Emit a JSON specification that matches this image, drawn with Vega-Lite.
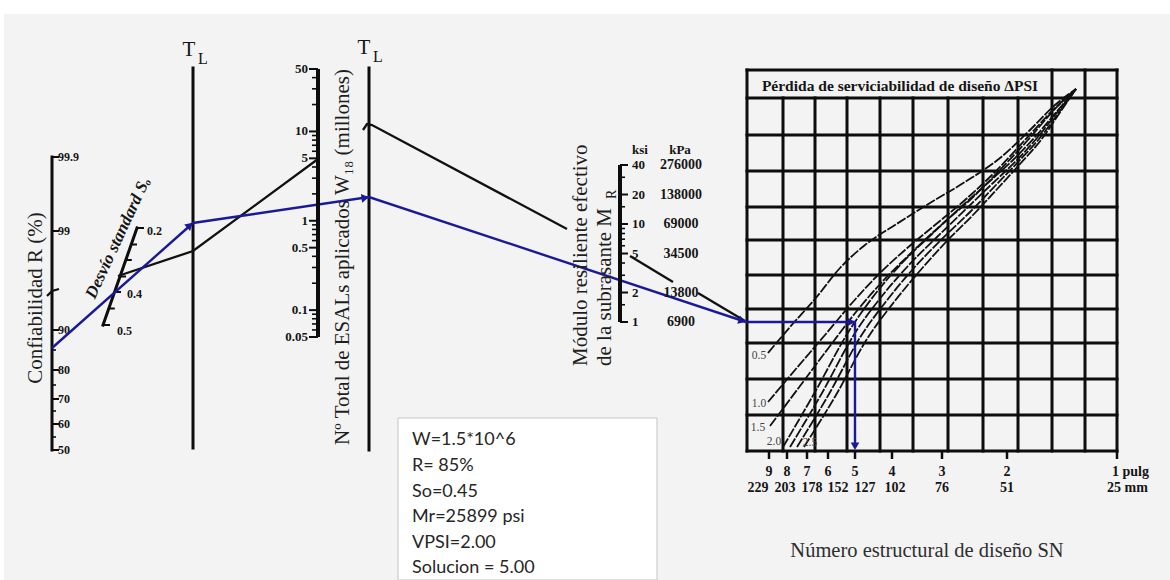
{
  "$schema": "https://vega.github.io/schema/vega-lite/v6.json",
  "width": 1170,
  "height": 580,
  "autosize": "none",
  "padding": 0,
  "background": "#ffffff",
  "config": {
    "view": {"stroke": null},
    "axis": {"disable": true},
    "text": {"font": "Liberation Serif", "color": "#151515"}
  },
  "resolve": {"scale": {"x": "independent", "y": "independent"}},
  "layer": [
    {
      "layer": [
        {
          "data": {"values": [{"x": 4, "y": 14, "x2": 1170, "y2": 580}]},
          "mark": {"type": "rect", "fill": "#f3f3f3"},
          "encoding": {
            "x": {"field": "x", "type": "quantitative", "scale": {"domain": [0, 1170], "nice": false, "zero": false}},
            "x2": {"field": "x2"},
            "y": {"field": "y", "type": "quantitative", "scale": {"domain": [0, 580], "nice": false, "zero": false, "reverse": true}},
            "y2": {"field": "y2"}
          }
        },
        {
          "data": {"values": [{"x": 398, "y": 418, "x2": 657, "y2": 580}]},
          "mark": {"type": "rect", "fill": "#ffffff", "stroke": "#c4c4c4", "strokeWidth": 1},
          "encoding": {
            "x": {"field": "x", "type": "quantitative", "scale": {"domain": [0, 1170], "nice": false, "zero": false}},
            "x2": {"field": "x2"},
            "y": {"field": "y", "type": "quantitative", "scale": {"domain": [0, 580], "nice": false, "zero": false, "reverse": true}},
            "y2": {"field": "y2"}
          }
        },
        {
          "data": {"values": [
            {"x": 747, "y": 70, "x2": 747, "y2": 451},
            {"x": 1052, "y": 70, "x2": 1052, "y2": 451},
            {"x": 1085, "y": 70, "x2": 1085, "y2": 451},
            {"x": 1117, "y": 70, "x2": 1117, "y2": 451},
            {"x": 783, "y": 98, "x2": 783, "y2": 451},
            {"x": 815, "y": 98, "x2": 815, "y2": 451},
            {"x": 847, "y": 98, "x2": 847, "y2": 451},
            {"x": 880, "y": 98, "x2": 880, "y2": 451},
            {"x": 913, "y": 98, "x2": 913, "y2": 451},
            {"x": 948, "y": 98, "x2": 948, "y2": 451},
            {"x": 983, "y": 98, "x2": 983, "y2": 451},
            {"x": 1018, "y": 98, "x2": 1018, "y2": 451},
            {"x": 747, "y": 70, "x2": 1117, "y2": 70},
            {"x": 747, "y": 98, "x2": 1117, "y2": 98},
            {"x": 747, "y": 135, "x2": 1117, "y2": 135},
            {"x": 747, "y": 171, "x2": 1117, "y2": 171},
            {"x": 747, "y": 207, "x2": 1117, "y2": 207},
            {"x": 747, "y": 240, "x2": 1117, "y2": 240},
            {"x": 747, "y": 275, "x2": 1117, "y2": 275},
            {"x": 747, "y": 309, "x2": 1117, "y2": 309},
            {"x": 747, "y": 343, "x2": 1117, "y2": 343},
            {"x": 747, "y": 379, "x2": 1117, "y2": 379},
            {"x": 747, "y": 415, "x2": 1117, "y2": 415},
            {"x": 747, "y": 451, "x2": 1117, "y2": 451},
            {"x": 52, "y": 157, "x2": 52, "y2": 450},
            {"x": 193, "y": 68, "x2": 193, "y2": 448},
            {"x": 369, "y": 68, "x2": 369, "y2": 450},
            {"x": 137, "y": 228, "x2": 103, "y2": 325}
          ]},
          "mark": {"type": "rule", "color": "#0d0d0d", "strokeWidth": 3, "strokeCap": "square"},
          "encoding": {
            "x": {"field": "x", "type": "quantitative", "scale": {"domain": [0, 1170], "nice": false, "zero": false}},
            "x2": {"field": "x2"},
            "y": {"field": "y", "type": "quantitative", "scale": {"domain": [0, 580], "nice": false, "zero": false, "reverse": true}},
            "y2": {"field": "y2"}
          }
        },
        {
          "data": {"values": [
            {"x": 137, "y": 228, "x2": 144, "y2": 228},
            {"x": 131.2, "y": 244.5, "x2": 137, "y2": 244.5},
            {"x": 125.8, "y": 260, "x2": 131.8, "y2": 260},
            {"x": 120, "y": 276.5, "x2": 126, "y2": 276.5},
            {"x": 114.6, "y": 292, "x2": 121, "y2": 292},
            {"x": 108.8, "y": 308.5, "x2": 114.8, "y2": 308.5},
            {"x": 103, "y": 325, "x2": 110, "y2": 325}
          ]},
          "mark": {"type": "rule", "color": "#0d0d0d", "strokeWidth": 2},
          "encoding": {
            "x": {"field": "x", "type": "quantitative", "scale": {"domain": [0, 1170], "nice": false, "zero": false}},
            "x2": {"field": "x2"},
            "y": {"field": "y", "type": "quantitative", "scale": {"domain": [0, 580], "nice": false, "zero": false, "reverse": true}},
            "y2": {"field": "y2"}
          }
        },
        {
          "data": {"values": [
            {"y": 157, "label": "99.9"}, {"y": 231, "label": "99"}, {"y": 330, "label": "90"},
            {"y": 370, "label": "80"}, {"y": 399, "label": "70"}, {"y": 424, "label": "60"}, {"y": 450, "label": "50"}
          ]},
          "layer": [
            {
              "mark": {"type": "rule", "color": "#0d0d0d", "strokeWidth": 2},
              "encoding": {
                "x": {"datum": 52, "type": "quantitative", "scale": {"domain": [0, 1170], "nice": false, "zero": false}},
                "x2": {"datum": 59},
                "y": {"field": "y", "type": "quantitative", "scale": {"domain": [0, 580], "nice": false, "zero": false, "reverse": true}}
              }
            },
            {
              "mark": {"type": "text", "align": "left", "baseline": "middle", "fontSize": 12, "fontWeight": "bold"},
              "encoding": {
                "x": {"datum": 58, "type": "quantitative", "scale": {"domain": [0, 1170], "nice": false, "zero": false}},
                "y": {"field": "y", "type": "quantitative", "scale": {"domain": [0, 580], "nice": false, "zero": false, "reverse": true}},
                "text": {"field": "label"}
              }
            }
          ]
        },
        {
          "data": {"values": [{"y": 350}, {"y": 385}, {"y": 411}, {"y": 437}]},
          "mark": {"type": "rule", "color": "#0d0d0d", "strokeWidth": 1.6},
          "encoding": {
            "x": {"datum": 52, "type": "quantitative", "scale": {"domain": [0, 1170], "nice": false, "zero": false}},
            "x2": {"datum": 56},
            "y": {"field": "y", "type": "quantitative", "scale": {"domain": [0, 580], "nice": false, "zero": false, "reverse": true}}
          }
        },
        {
          "data": {"values": [
            {"x": 769, "n": "9", "mm": "229", "mmx": 758}, {"x": 787, "n": "8", "mm": "203", "mmx": 785},
            {"x": 807, "n": "7", "mm": "178", "mmx": 812}, {"x": 828, "n": "6", "mm": "152", "mmx": 838},
            {"x": 855, "n": "5", "mm": "127", "mmx": 865}, {"x": 892, "n": "4", "mm": "102", "mmx": 895},
            {"x": 942, "n": "3", "mm": "76", "mmx": 942}, {"x": 1007, "n": "2", "mm": "51", "mmx": 1007},
            {"x": 1117, "n": "", "mm": "", "mmx": 1117}
          ]},
          "layer": [
            {
              "mark": {"type": "rule", "color": "#0d0d0d", "strokeWidth": 2.5},
              "encoding": {
                "x": {"field": "x", "type": "quantitative", "scale": {"domain": [0, 1170], "nice": false, "zero": false}},
                "y": {"datum": 451, "type": "quantitative", "scale": {"domain": [0, 580], "nice": false, "zero": false, "reverse": true}},
                "y2": {"datum": 459}
              }
            },
            {
              "mark": {"type": "text", "align": "center", "baseline": "middle", "fontSize": 14, "fontWeight": "bold"},
              "encoding": {
                "x": {"field": "x", "type": "quantitative", "scale": {"domain": [0, 1170], "nice": false, "zero": false}},
                "y": {"datum": 472, "type": "quantitative", "scale": {"domain": [0, 580], "nice": false, "zero": false, "reverse": true}},
                "text": {"field": "n"}
              }
            },
            {
              "mark": {"type": "text", "align": "center", "baseline": "middle", "fontSize": 14, "fontWeight": "bold"},
              "encoding": {
                "x": {"field": "mmx", "type": "quantitative", "scale": {"domain": [0, 1170], "nice": false, "zero": false}},
                "y": {"datum": 488, "type": "quantitative", "scale": {"domain": [0, 580], "nice": false, "zero": false, "reverse": true}},
                "text": {"field": "mm"}
              }
            }
          ]
        },
        {
          "data": {"values": [
            {"x": 1112, "y": 472, "t": "1 pulg"}, {"x": 1107, "y": 488, "t": "25 mm"}
          ]},
          "mark": {"type": "text", "align": "left", "baseline": "middle", "fontSize": 14, "fontWeight": "bold"},
          "encoding": {
            "x": {"field": "x", "type": "quantitative", "scale": {"domain": [0, 1170], "nice": false, "zero": false}},
            "y": {"field": "y", "type": "quantitative", "scale": {"domain": [0, 580], "nice": false, "zero": false, "reverse": true}},
            "text": {"field": "t"}
          }
        },
        {
          "data": {"values": [{"x": 640, "y": 150, "t": "ksi"}, {"x": 680, "y": 150, "t": "kPa"}]},
          "mark": {"type": "text", "align": "center", "baseline": "middle", "fontSize": 13, "fontWeight": "bold"},
          "encoding": {
            "x": {"field": "x", "type": "quantitative", "scale": {"domain": [0, 1170], "nice": false, "zero": false}},
            "y": {"field": "y", "type": "quantitative", "scale": {"domain": [0, 580], "nice": false, "zero": false, "reverse": true}},
            "text": {"field": "t"}
          }
        },
        {
          "data": {"values": [
            {"id": "g0", "o": 1, "x": 47, "y": 296}, {"id": "g0", "o": 2, "x": 52, "y": 291}, {"id": "g0", "o": 3, "x": 59, "y": 289},
            {"id": "g1", "o": 1, "x": 118, "y": 276}, {"id": "g1", "o": 2, "x": 193, "y": 251}, {"id": "g1", "o": 3, "x": 318, "y": 159},
            {"id": "g2", "o": 1, "x": 363, "y": 130}, {"id": "g2", "o": 2, "x": 367, "y": 124}, {"id": "g2", "o": 3, "x": 372, "y": 125}, {"id": "g2", "o": 4, "x": 567, "y": 229},
            {"id": "g3", "o": 1, "x": 630, "y": 256}, {"id": "g3", "o": 2, "x": 673, "y": 282},
            {"id": "g4", "o": 1, "x": 698, "y": 293}, {"id": "g4", "o": 2, "x": 745, "y": 321}
          ]},
          "mark": {"type": "line", "color": "#111111", "strokeWidth": 2.3},
          "encoding": {
            "x": {"field": "x", "type": "quantitative", "scale": {"domain": [0, 1170], "nice": false, "zero": false}},
            "y": {"field": "y", "type": "quantitative", "scale": {"domain": [0, 580], "nice": false, "zero": false, "reverse": true}},
            "detail": {"field": "id"},
            "order": {"field": "o"}
          }
        },
        {
          "data": {"values": [
            {"id": "0.5", "o": 1, "x": 768, "y": 353}, {"id": "0.5", "o": 2, "x": 790, "y": 327}, {"id": "0.5", "o": 3, "x": 815, "y": 299}, {"id": "0.5", "o": 4, "x": 840, "y": 268}, {"id": "0.5", "o": 5, "x": 865, "y": 245}, {"id": "0.5", "o": 6, "x": 895, "y": 225}, {"id": "0.5", "o": 7, "x": 930, "y": 203}, {"id": "0.5", "o": 8, "x": 965, "y": 182}, {"id": "0.5", "o": 9, "x": 1000, "y": 158}, {"id": "0.5", "o": 10, "x": 1030, "y": 130}, {"id": "0.5", "o": 11, "x": 1055, "y": 105}, {"id": "0.5", "o": 12, "x": 1076, "y": 89},
            {"id": "1.0", "o": 1, "x": 768, "y": 402}, {"id": "1.0", "o": 2, "x": 795, "y": 370}, {"id": "1.0", "o": 3, "x": 825, "y": 335}, {"id": "1.0", "o": 4, "x": 852, "y": 303}, {"id": "1.0", "o": 5, "x": 878, "y": 275}, {"id": "1.0", "o": 6, "x": 905, "y": 250}, {"id": "1.0", "o": 7, "x": 935, "y": 225}, {"id": "1.0", "o": 8, "x": 965, "y": 200}, {"id": "1.0", "o": 9, "x": 995, "y": 172}, {"id": "1.0", "o": 10, "x": 1025, "y": 140}, {"id": "1.0", "o": 11, "x": 1055, "y": 108}, {"id": "1.0", "o": 12, "x": 1076, "y": 89},
            {"id": "1.5", "o": 1, "x": 770, "y": 426}, {"id": "1.5", "o": 2, "x": 800, "y": 386}, {"id": "1.5", "o": 3, "x": 830, "y": 346}, {"id": "1.5", "o": 4, "x": 856, "y": 312}, {"id": "1.5", "o": 5, "x": 882, "y": 282}, {"id": "1.5", "o": 6, "x": 910, "y": 254}, {"id": "1.5", "o": 7, "x": 940, "y": 226}, {"id": "1.5", "o": 8, "x": 970, "y": 200}, {"id": "1.5", "o": 9, "x": 998, "y": 172}, {"id": "1.5", "o": 10, "x": 1027, "y": 141}, {"id": "1.5", "o": 11, "x": 1055, "y": 109}, {"id": "1.5", "o": 12, "x": 1076, "y": 89},
            {"id": "2.0", "o": 1, "x": 783, "y": 447}, {"id": "2.0", "o": 2, "x": 815, "y": 392}, {"id": "2.0", "o": 3, "x": 849, "y": 331}, {"id": "2.0", "o": 4, "x": 876, "y": 293}, {"id": "2.0", "o": 5, "x": 903, "y": 262}, {"id": "2.0", "o": 6, "x": 932, "y": 234}, {"id": "2.0", "o": 7, "x": 962, "y": 206}, {"id": "2.0", "o": 8, "x": 990, "y": 181}, {"id": "2.0", "o": 9, "x": 1013, "y": 160}, {"id": "2.0", "o": 10, "x": 1035, "y": 137}, {"id": "2.0", "o": 11, "x": 1058, "y": 110}, {"id": "2.0", "o": 12, "x": 1076, "y": 89},
            {"id": "2.2", "o": 1, "x": 790, "y": 447}, {"id": "2.2", "o": 2, "x": 822, "y": 393}, {"id": "2.2", "o": 3, "x": 855, "y": 333}, {"id": "2.2", "o": 4, "x": 882, "y": 296}, {"id": "2.2", "o": 5, "x": 908, "y": 266}, {"id": "2.2", "o": 6, "x": 937, "y": 237}, {"id": "2.2", "o": 7, "x": 966, "y": 209}, {"id": "2.2", "o": 8, "x": 993, "y": 183}, {"id": "2.2", "o": 9, "x": 1016, "y": 161}, {"id": "2.2", "o": 10, "x": 1037, "y": 138}, {"id": "2.2", "o": 11, "x": 1059, "y": 110}, {"id": "2.2", "o": 12, "x": 1076, "y": 89},
            {"id": "2.3", "o": 1, "x": 797, "y": 447}, {"id": "2.3", "o": 2, "x": 829, "y": 394}, {"id": "2.3", "o": 3, "x": 861, "y": 336}, {"id": "2.3", "o": 4, "x": 888, "y": 299}, {"id": "2.3", "o": 5, "x": 913, "y": 269}, {"id": "2.3", "o": 6, "x": 941, "y": 240}, {"id": "2.3", "o": 7, "x": 970, "y": 212}, {"id": "2.3", "o": 8, "x": 996, "y": 185}, {"id": "2.3", "o": 9, "x": 1018, "y": 162}, {"id": "2.3", "o": 10, "x": 1039, "y": 139}, {"id": "2.3", "o": 11, "x": 1060, "y": 111}, {"id": "2.3", "o": 12, "x": 1076, "y": 89},
            {"id": "2.5", "o": 1, "x": 804, "y": 447}, {"id": "2.5", "o": 2, "x": 836, "y": 395}, {"id": "2.5", "o": 3, "x": 867, "y": 339}, {"id": "2.5", "o": 4, "x": 894, "y": 302}, {"id": "2.5", "o": 5, "x": 918, "y": 273}, {"id": "2.5", "o": 6, "x": 945, "y": 243}, {"id": "2.5", "o": 7, "x": 973, "y": 215}, {"id": "2.5", "o": 8, "x": 999, "y": 187}, {"id": "2.5", "o": 9, "x": 1020, "y": 164}, {"id": "2.5", "o": 10, "x": 1041, "y": 140}, {"id": "2.5", "o": 11, "x": 1061, "y": 111}, {"id": "2.5", "o": 12, "x": 1076, "y": 89}
          ]},
          "mark": {"type": "line", "color": "#111111", "strokeWidth": 1.8, "strokeDash": [10, 1.5], "interpolate": "monotone"},
          "encoding": {
            "x": {"field": "x", "type": "quantitative", "scale": {"domain": [0, 1170], "nice": false, "zero": false}},
            "y": {"field": "y", "type": "quantitative", "scale": {"domain": [0, 580], "nice": false, "zero": false, "reverse": true}},
            "detail": {"field": "id"},
            "order": {"field": "o"}
          }
        },
        {
          "data": {"values": [
            {"x": 759, "y": 356, "t": "0.5"}, {"x": 759, "y": 404, "t": "1.0"}, {"x": 758, "y": 428, "t": "1.5"},
            {"x": 774, "y": 442, "t": "2.0"}, {"x": 810, "y": 443, "t": "2.5"}
          ]},
          "mark": {"type": "text", "align": "center", "baseline": "middle", "fontSize": 11.5, "color": "#444444"},
          "encoding": {
            "x": {"field": "x", "type": "quantitative", "scale": {"domain": [0, 1170], "nice": false, "zero": false}},
            "y": {"field": "y", "type": "quantitative", "scale": {"domain": [0, 580], "nice": false, "zero": false, "reverse": true}},
            "text": {"field": "t"}
          }
        },
        {
          "data": {"values": [
            {"o": 1, "x": 52, "y": 348}, {"o": 2, "x": 193, "y": 223}, {"o": 3, "x": 369, "y": 197},
            {"o": 4, "x": 746, "y": 322}, {"o": 5, "x": 855, "y": 322}, {"o": 6, "x": 855, "y": 447}
          ]},
          "mark": {"type": "line", "color": "#1a1a98", "strokeWidth": 2.4, "strokeJoin": "miter"},
          "encoding": {
            "x": {"field": "x", "type": "quantitative", "scale": {"domain": [0, 1170], "nice": false, "zero": false}},
            "y": {"field": "y", "type": "quantitative", "scale": {"domain": [0, 580], "nice": false, "zero": false, "reverse": true}},
            "order": {"field": "o"}
          }
        },
        {
          "data": {"values": [
            {"x": 189, "y": 226, "heading": 48}, {"x": 364, "y": 198, "heading": 82},
            {"x": 741, "y": 320.5, "heading": 108}, {"x": 850, "y": 322, "heading": 90}, {"x": 855, "y": 445, "heading": 180}
          ]},
          "mark": {"type": "point", "shape": "triangle", "filled": true, "color": "#1a1a98", "size": 75, "opacity": 1},
          "encoding": {
            "x": {"field": "x", "type": "quantitative", "scale": {"domain": [0, 1170], "nice": false, "zero": false}},
            "y": {"field": "y", "type": "quantitative", "scale": {"domain": [0, 580], "nice": false, "zero": false, "reverse": true}},
            "angle": {"field": "heading", "type": "quantitative", "scale": null}
          }
        },
        {
          "data": {"values": [{"x": 189, "y": 50, "t": "T"}, {"x": 364, "y": 48, "t": "T"}]},
          "mark": {"type": "text", "align": "center", "baseline": "middle", "fontSize": 21},
          "encoding": {
            "x": {"field": "x", "type": "quantitative", "scale": {"domain": [0, 1170], "nice": false, "zero": false}},
            "y": {"field": "y", "type": "quantitative", "scale": {"domain": [0, 580], "nice": false, "zero": false, "reverse": true}},
            "text": {"field": "t"}
          }
        },
        {
          "data": {"values": [{"x": 203, "y": 59, "t": "L"}, {"x": 378, "y": 57, "t": "L"}]},
          "mark": {"type": "text", "align": "center", "baseline": "middle", "fontSize": 16},
          "encoding": {
            "x": {"field": "x", "type": "quantitative", "scale": {"domain": [0, 1170], "nice": false, "zero": false}},
            "y": {"field": "y", "type": "quantitative", "scale": {"domain": [0, 580], "nice": false, "zero": false, "reverse": true}},
            "text": {"field": "t"}
          }
        },
        {
          "data": {"values": [{"x": 147, "y": 231, "t": "0.2"}, {"x": 127, "y": 294, "t": "0.4"}, {"x": 117, "y": 331, "t": "0.5"}]},
          "mark": {"type": "text", "align": "left", "baseline": "middle", "fontSize": 12, "fontWeight": "bold"},
          "encoding": {
            "x": {"field": "x", "type": "quantitative", "scale": {"domain": [0, 1170], "nice": false, "zero": false}},
            "y": {"field": "y", "type": "quantitative", "scale": {"domain": [0, 580], "nice": false, "zero": false, "reverse": true}},
            "text": {"field": "t"}
          }
        },
        {
          "data": {"values": [{"x": 118, "y": 238, "t": "Desvío standard Sₒ"}]},
          "mark": {"type": "text", "align": "center", "baseline": "middle", "fontSize": 17, "fontWeight": "bold", "fontStyle": "italic", "angle": -65},
          "encoding": {
            "x": {"field": "x", "type": "quantitative", "scale": {"domain": [0, 1170], "nice": false, "zero": false}},
            "y": {"field": "y", "type": "quantitative", "scale": {"domain": [0, 580], "nice": false, "zero": false, "reverse": true}},
            "text": {"field": "t"}
          }
        },
        {
          "data": {"values": [{"x": 36, "y": 298, "t": "Confiabilidad  R  (%)"}]},
          "mark": {"type": "text", "align": "center", "baseline": "middle", "fontSize": 21, "angle": -90, "color": "#1e1e1e"},
          "encoding": {
            "x": {"field": "x", "type": "quantitative", "scale": {"domain": [0, 1170], "nice": false, "zero": false}},
            "y": {"field": "y", "type": "quantitative", "scale": {"domain": [0, 580], "nice": false, "zero": false, "reverse": true}},
            "text": {"field": "t"}
          }
        },
        {
          "data": {"values": [{"x": 343, "y": 257, "t": "Nº Total de ESALs aplicados W₁₈  (millones)"}]},
          "mark": {"type": "text", "align": "center", "baseline": "middle", "fontSize": 21, "angle": -90, "color": "#1e1e1e"},
          "encoding": {
            "x": {"field": "x", "type": "quantitative", "scale": {"domain": [0, 1170], "nice": false, "zero": false}},
            "y": {"field": "y", "type": "quantitative", "scale": {"domain": [0, 580], "nice": false, "zero": false, "reverse": true}},
            "text": {"field": "t"}
          }
        },
        {
          "data": {"values": [
            {"x": 581, "y": 366, "t": "Módulo resiliente efectivo"},
            {"x": 605, "y": 366, "t": "de la subrasante  M"}
          ]},
          "mark": {"type": "text", "align": "left", "baseline": "middle", "fontSize": 21, "angle": -90, "color": "#1e1e1e"},
          "encoding": {
            "x": {"field": "x", "type": "quantitative", "scale": {"domain": [0, 1170], "nice": false, "zero": false}},
            "y": {"field": "y", "type": "quantitative", "scale": {"domain": [0, 580], "nice": false, "zero": false, "reverse": true}},
            "text": {"field": "t"}
          }
        },
        {
          "data": {"values": [{"x": 612, "y": 199, "t": "R"}]},
          "mark": {"type": "text", "align": "left", "baseline": "middle", "fontSize": 14, "angle": -90, "color": "#1e1e1e"},
          "encoding": {
            "x": {"field": "x", "type": "quantitative", "scale": {"domain": [0, 1170], "nice": false, "zero": false}},
            "y": {"field": "y", "type": "quantitative", "scale": {"domain": [0, 580], "nice": false, "zero": false, "reverse": true}},
            "text": {"field": "t"}
          }
        },
        {
          "data": {"values": [{"x": 900, "y": 86, "t": "Pérdida de serviciabilidad de diseño ΔPSI"}]},
          "mark": {"type": "text", "align": "center", "baseline": "middle", "fontSize": 15.5, "fontWeight": "bold"},
          "encoding": {
            "x": {"field": "x", "type": "quantitative", "scale": {"domain": [0, 1170], "nice": false, "zero": false}},
            "y": {"field": "y", "type": "quantitative", "scale": {"domain": [0, 580], "nice": false, "zero": false, "reverse": true}},
            "text": {"field": "t"}
          }
        },
        {
          "data": {"values": [{"x": 927, "y": 551, "t": "Número estructural de diseño  SN"}]},
          "mark": {"type": "text", "align": "center", "baseline": "middle", "fontSize": 20.5, "color": "#2e2e2e"},
          "encoding": {
            "x": {"field": "x", "type": "quantitative", "scale": {"domain": [0, 1170], "nice": false, "zero": false}},
            "y": {"field": "y", "type": "quantitative", "scale": {"domain": [0, 580], "nice": false, "zero": false, "reverse": true}},
            "text": {"field": "t"}
          }
        },
        {
          "data": {"values": [
            {"y": 440, "t": "W=1.5*10^6"}, {"y": 466, "t": "R= 85%"}, {"y": 492, "t": "So=0.45"},
            {"y": 517, "t": "Mr=25899 psi"}, {"y": 543, "t": "VPSI=2.00"}, {"y": 568, "t": "Solucion = 5.00"}
          ]},
          "mark": {"type": "text", "align": "left", "baseline": "middle", "fontSize": 18, "font": "Lato", "color": "#262626"},
          "encoding": {
            "x": {"datum": 412, "type": "quantitative", "scale": {"domain": [0, 1170], "nice": false, "zero": false}},
            "y": {"field": "y", "type": "quantitative", "scale": {"domain": [0, 580], "nice": false, "zero": false, "reverse": true}},
            "text": {"field": "t"}
          }
        }
      ]
    },
    {
      "data": {"values": [
        {"w": 50, "label": "50", "rank": "major"}, {"w": 40, "label": "", "rank": "minor"}, {"w": 30, "label": "", "rank": "minor"},
        {"w": 20, "label": "", "rank": "minor"}, {"w": 10, "label": "10", "rank": "major"}, {"w": 9, "label": "", "rank": "minor"},
        {"w": 8, "label": "", "rank": "minor"}, {"w": 7, "label": "", "rank": "minor"}, {"w": 6, "label": "", "rank": "minor"},
        {"w": 5, "label": "5", "rank": "major"}, {"w": 4, "label": "", "rank": "minor"}, {"w": 3, "label": "", "rank": "minor"},
        {"w": 2, "label": "", "rank": "minor"}, {"w": 1, "label": "1", "rank": "major"}, {"w": 0.9, "label": "", "rank": "minor"},
        {"w": 0.8, "label": "", "rank": "minor"}, {"w": 0.7, "label": "", "rank": "minor"}, {"w": 0.6, "label": "", "rank": "minor"},
        {"w": 0.5, "label": "0.5", "rank": "major"}, {"w": 0.4, "label": "", "rank": "minor"}, {"w": 0.3, "label": "", "rank": "minor"},
        {"w": 0.2, "label": "", "rank": "minor"}, {"w": 0.1, "label": "0.1", "rank": "major"}, {"w": 0.09, "label": "", "rank": "minor"},
        {"w": 0.08, "label": "", "rank": "minor"}, {"w": 0.07, "label": "", "rank": "minor"}, {"w": 0.06, "label": "", "rank": "minor"},
        {"w": 0.05, "label": "0.05", "rank": "major"}
      ]},
      "layer": [
        {
          "mark": {"type": "rule", "color": "#0d0d0d", "strokeWidth": 3},
          "encoding": {
            "x": {"datum": 318, "type": "quantitative", "scale": {"domain": [0, 1170], "nice": false, "zero": false}},
            "y": {"datum": 0.05, "type": "quantitative", "scale": {"type": "log", "domain": [0.00009526, 296], "nice": false}},
            "y2": {"datum": 50}
          }
        },
        {
          "transform": [{"filter": "datum.rank == 'major'"}],
          "mark": {"type": "rule", "color": "#0d0d0d", "strokeWidth": 2},
          "encoding": {
            "x": {"datum": 309, "type": "quantitative", "scale": {"domain": [0, 1170], "nice": false, "zero": false}},
            "x2": {"datum": 318},
            "y": {"field": "w", "type": "quantitative", "scale": {"type": "log", "domain": [0.00009526, 296], "nice": false}}
          }
        },
        {
          "transform": [{"filter": "datum.rank == 'minor'"}],
          "mark": {"type": "rule", "color": "#0d0d0d", "strokeWidth": 1.6},
          "encoding": {
            "x": {"datum": 312, "type": "quantitative", "scale": {"domain": [0, 1170], "nice": false, "zero": false}},
            "x2": {"datum": 318},
            "y": {"field": "w", "type": "quantitative", "scale": {"type": "log", "domain": [0.00009526, 296], "nice": false}}
          }
        },
        {
          "transform": [{"filter": "datum.label != ''"}],
          "mark": {"type": "text", "align": "right", "baseline": "middle", "fontSize": 13, "fontWeight": "bold"},
          "encoding": {
            "x": {"datum": 308, "type": "quantitative", "scale": {"domain": [0, 1170], "nice": false, "zero": false}},
            "y": {"field": "w", "type": "quantitative", "scale": {"type": "log", "domain": [0.00009526, 296], "nice": false}},
            "text": {"field": "label"}
          }
        }
      ]
    },
    {
      "data": {"values": [
        {"ksi": 40, "label": "40", "kpa": "276000", "rank": "major"}, {"ksi": 30, "label": "", "kpa": "", "rank": "minor"},
        {"ksi": 20, "label": "20", "kpa": "138000", "rank": "major"}, {"ksi": 15, "label": "", "kpa": "", "rank": "minor"},
        {"ksi": 10, "label": "10", "kpa": "69000", "rank": "major"}, {"ksi": 9, "label": "", "kpa": "", "rank": "minor"},
        {"ksi": 8, "label": "", "kpa": "", "rank": "minor"}, {"ksi": 7, "label": "", "kpa": "", "rank": "minor"},
        {"ksi": 6, "label": "", "kpa": "", "rank": "minor"}, {"ksi": 5, "label": "5", "kpa": "34500", "rank": "major"},
        {"ksi": 4, "label": "", "kpa": "", "rank": "minor"}, {"ksi": 3, "label": "", "kpa": "", "rank": "minor"},
        {"ksi": 2, "label": "2", "kpa": "13800", "rank": "major"}, {"ksi": 1.5, "label": "", "kpa": "", "rank": "minor"},
        {"ksi": 1, "label": "1", "kpa": "6900", "rank": "major"}
      ]},
      "layer": [
        {
          "mark": {"type": "rule", "color": "#0d0d0d", "strokeWidth": 3},
          "encoding": {
            "x": {"datum": 620, "type": "quantitative", "scale": {"domain": [0, 1170], "nice": false, "zero": false}},
            "y": {"datum": 1, "type": "quantitative", "scale": {"type": "log", "domain": [0.002331, 1931.3], "nice": false}},
            "y2": {"datum": 40}
          }
        },
        {
          "transform": [{"filter": "datum.rank == 'major'"}],
          "mark": {"type": "rule", "color": "#0d0d0d", "strokeWidth": 2},
          "encoding": {
            "x": {"datum": 620, "type": "quantitative", "scale": {"domain": [0, 1170], "nice": false, "zero": false}},
            "x2": {"datum": 628},
            "y": {"field": "ksi", "type": "quantitative", "scale": {"type": "log", "domain": [0.002331, 1931.3], "nice": false}}
          }
        },
        {
          "transform": [{"filter": "datum.rank == 'minor'"}],
          "mark": {"type": "rule", "color": "#0d0d0d", "strokeWidth": 1.6},
          "encoding": {
            "x": {"datum": 620, "type": "quantitative", "scale": {"domain": [0, 1170], "nice": false, "zero": false}},
            "x2": {"datum": 625},
            "y": {"field": "ksi", "type": "quantitative", "scale": {"type": "log", "domain": [0.002331, 1931.3], "nice": false}}
          }
        },
        {
          "transform": [{"filter": "datum.label != ''"}],
          "mark": {"type": "text", "align": "left", "baseline": "middle", "fontSize": 13, "fontWeight": "bold"},
          "encoding": {
            "x": {"datum": 632, "type": "quantitative", "scale": {"domain": [0, 1170], "nice": false, "zero": false}},
            "y": {"field": "ksi", "type": "quantitative", "scale": {"type": "log", "domain": [0.002331, 1931.3], "nice": false}},
            "text": {"field": "label"}
          }
        },
        {
          "transform": [{"filter": "datum.kpa != ''"}],
          "mark": {"type": "text", "align": "center", "baseline": "middle", "fontSize": 14, "fontWeight": "bold"},
          "encoding": {
            "x": {"datum": 681, "type": "quantitative", "scale": {"domain": [0, 1170], "nice": false, "zero": false}},
            "y": {"field": "ksi", "type": "quantitative", "scale": {"type": "log", "domain": [0.002331, 1931.3], "nice": false}},
            "text": {"field": "kpa"}
          }
        }
      ]
    }
  ]
}
